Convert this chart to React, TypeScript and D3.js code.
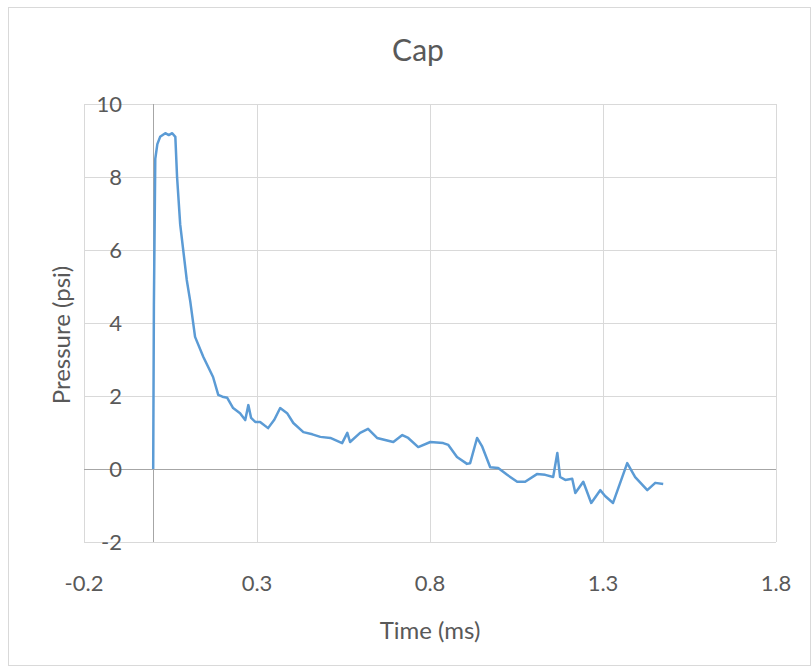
import React from "react";
import * as d3 from "d3";

const timeMs: number[] = [
  0.0, 0.002, 0.006, 0.012, 0.02, 0.035, 0.045, 0.055, 0.064, 0.069, 0.078, 0.097, 0.107, 0.121, 0.145,
  0.173, 0.188, 0.2, 0.214, 0.231, 0.251, 0.266, 0.275, 0.283, 0.295, 0.309, 0.332, 0.35, 0.367,
  0.387, 0.405, 0.434, 0.46, 0.483, 0.512, 0.546, 0.561, 0.569, 0.598, 0.621, 0.647, 0.694,
  0.72, 0.737, 0.766, 0.801, 0.838, 0.853, 0.878, 0.907, 0.916, 0.936, 0.951, 0.974, 0.997,
  1.023, 1.052, 1.075, 1.109, 1.133, 1.156, 1.168, 1.176, 1.191, 1.211, 1.22, 1.243, 1.266,
  1.292, 1.306, 1.329, 1.37, 1.393, 1.428, 1.451, 1.474,
];
const pressurePsi: number[] = [
  0.0, 4.5, 8.5, 8.9, 9.1, 9.2, 9.15, 9.2, 9.1, 8.0, 6.7, 5.18, 4.6, 3.62, 3.07,
  2.52, 2.03, 1.98, 1.95, 1.67, 1.53, 1.34, 1.75, 1.4, 1.29, 1.29, 1.12, 1.35, 1.67,
  1.53, 1.26, 1.01, 0.95, 0.88, 0.85, 0.71, 0.99, 0.74, 0.99, 1.1, 0.85, 0.74,
  0.93, 0.85, 0.6, 0.74, 0.71, 0.66, 0.33, 0.14, 0.16, 0.85, 0.61, 0.05, 0.03,
  -0.16, -0.35, -0.35, -0.14, -0.16, -0.22, 0.44, -0.22, -0.3, -0.27, -0.66, -0.35, -0.93,
  -0.58, -0.74, -0.93, 0.16, -0.22, -0.58, -0.38, -0.41,
];
const xTicks: number[] = [-0.2, 0.3, 0.8, 1.3, 1.8];
const yTicks: number[] = [-2, 0, 2, 4, 6, 8, 10];
const chartTitle = "Cap";
const xTitle = "Time (ms)";
const yTitle = "Pressure (psi)";

export default function App() {
  const W = 811;
  const H = 670;
  const left = 84, right = 776, top = 104, bottom = 542;
  const x = d3.scaleLinear().domain([-0.2, 1.8]).range([left, right]);
  const y = d3.scaleLinear().domain([-2, 10]).range([bottom, top]);
  const pts = timeMs.map((t, i) => [t, pressurePsi[i]] as [number, number]);
  const line = d3.line<[number, number]>().x((d) => x(d[0])).y((d) => y(d[1]));
  const font = "Lato, 'Open Sans', sans-serif";
  const textColor = "#595959";
  return (
    <svg
      width={W}
      height={H}
      style={{ position: "fixed", left: 0, top: 0, background: "#fff" }}
      fontFamily={font}
    >
      <rect x={0} y={0} width={W} height={H} fill="#fff" />
      <rect x={8.5} y={7.5} width={W - 9} height={H - 12} fill="none" stroke="#d9d9d9" />
      <text x={418} y={61} textAnchor="middle" fontSize={30} fill={textColor}>
        {chartTitle}
      </text>
      {yTicks.map((v) => (
        <line key={"gy" + v} x1={left} x2={right} y1={Math.round(y(v)) + 0.5} y2={Math.round(y(v)) + 0.5} stroke="#d9d9d9" strokeWidth={1} />
      ))}
      {xTicks.map((v) => (
        <line key={"gx" + v} x1={Math.round(x(v)) + 0.5} x2={Math.round(x(v)) + 0.5} y1={top} y2={bottom} stroke="#d9d9d9" strokeWidth={1} />
      ))}
      <line x1={left} x2={right} y1={Math.round(y(0)) + 0.5} y2={Math.round(y(0)) + 0.5} stroke="#a6a6a6" />
      <line x1={Math.round(x(0)) + 0.5} x2={Math.round(x(0)) + 0.5} y1={top} y2={bottom} stroke="#a6a6a6" />
      {yTicks.map((v) => (
        <text key={"ly" + v} x={122} y={y(v) + 8} textAnchor="end" fontSize={22} fill={textColor}>
          {String(v)}
        </text>
      ))}
      {xTicks.map((v) => (
        <text key={"lx" + v} x={x(v)} y={591} textAnchor="middle" fontSize={22} fill={textColor}>
          {v.toFixed(1)}
        </text>
      ))}
      <text x={430} y={639} textAnchor="middle" fontSize={24} fill={textColor}>
        {xTitle}
      </text>
      <text transform={`translate(70,335) rotate(-90)`} textAnchor="middle" fontSize={24} fill={textColor}>
        {yTitle}
      </text>
      <path d={line(pts) || ""} fill="none" stroke="#5b9bd5" strokeWidth={2.5} strokeLinejoin="round" />
    </svg>
  );
}
